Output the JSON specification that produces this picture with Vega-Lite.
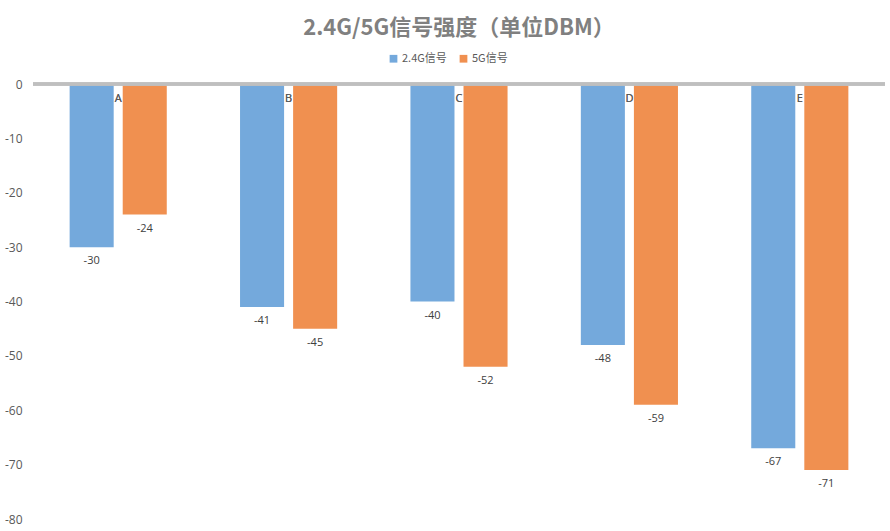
{
  "$schema": "https://vega.github.io/schema/vega-lite/v6.json",
  "autosize": {"type": "none"},
  "padding": {"left": 33, "top": 84, "right": 5, "bottom": 12},
  "width": 852,
  "height": 435,
  "background": "white",
  "title": {
    "text": "2.4G/5G信号强度（单位DBM）",
    "font": "Noto Sans CJK SC",
    "fontSize": 22,
    "fontWeight": "bold",
    "color": "#808080",
    "anchor": "middle",
    "offset": 13
  },
  "config": {
    "view": {"stroke": null},
    "font": "Noto Sans CJK SC"
  },
  "data": {
    "values": [
      {"point": "A", "series": "2.4G信号", "dbm": -30},
      {"point": "A", "series": "5G信号", "dbm": -24},
      {"point": "B", "series": "2.4G信号", "dbm": -41},
      {"point": "B", "series": "5G信号", "dbm": -45},
      {"point": "C", "series": "2.4G信号", "dbm": -40},
      {"point": "C", "series": "5G信号", "dbm": -52},
      {"point": "D", "series": "2.4G信号", "dbm": -48},
      {"point": "D", "series": "5G信号", "dbm": -59},
      {"point": "E", "series": "2.4G信号", "dbm": -67},
      {"point": "E", "series": "5G信号", "dbm": -71}
    ]
  },
  "encoding": {
    "x": {
      "field": "point",
      "type": "nominal",
      "axis": null,
      "scale": {"paddingInner": 0.43, "paddingOuter": 0.215}
    },
    "y": {
      "field": "dbm",
      "type": "quantitative",
      "scale": {"domain": [-80, 0], "nice": false},
      "axis": {
        "title": null,
        "values": [0, -10, -20, -30, -40, -50, -60, -70, -80],
        "labelExpr": "replace(datum.label, '\u2212', '-')",
        "grid": false,
        "domain": false,
        "ticks": false,
        "labelPadding": 11,
        "labelFontSize": 12,
        "labelColor": "#595959",
        "labelFont": "Open Sans"
      }
    }
  },
  "layer": [
    {
      "mark": {"type": "bar"},
      "encoding": {
        "xOffset": {"field": "series", "type": "nominal", "scale": {"paddingInner": 0.17}},
        "color": {
          "field": "series",
          "type": "nominal",
          "scale": {"domain": ["2.4G信号", "5G信号"], "range": ["#74A9DC", "#F09050"]},
          "legend": {
            "title": null,
            "orient": "none",
            "direction": "horizontal",
            "legendX": 355,
            "legendY": -31,
            "symbolType": "square",
            "symbolSize": 60,
            "symbolStrokeWidth": 0,
            "labelFontSize": 11,
            "labelColor": "#595959",
            "labelOffset": 3,
            "columnPadding": 11
          }
        }
      }
    },
    {
      "mark": {"type": "text", "baseline": "top", "dy": 8, "fontSize": 11, "color": "#404040", "font": "Open Sans"},
      "encoding": {
        "xOffset": {"field": "series", "type": "nominal", "scale": {"paddingInner": 0.17}},
        "text": {"field": "dbm", "type": "nominal"}
      }
    },
    {
      "mark": {"type": "rule", "color": "#BFBFBF", "strokeWidth": 2.5},
      "encoding": {"y": {"datum": 0}, "x": null}
    },
    {
      "mark": {"type": "text", "baseline": "middle", "dy": 15, "fontSize": 11, "color": "#595959", "font": "Open Sans"},
      "encoding": {
        "y": {"datum": 0},
        "text": {"field": "point", "type": "nominal"}
      }
    }
  ]
}
